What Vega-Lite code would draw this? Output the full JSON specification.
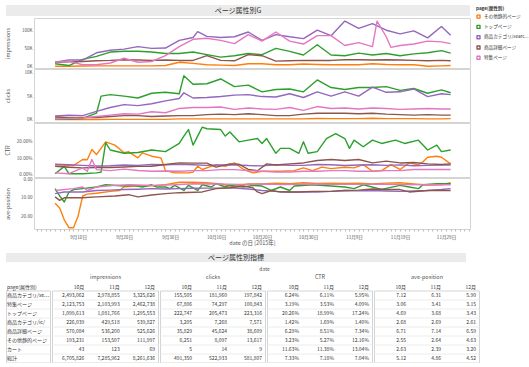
{
  "$schema": "https://vega.github.io/schema/vega-lite/v6.json",
  "padding": {"left": 5, "top": 5, "right": 0, "bottom": 0},
  "background": "white",
  "config": {
    "font": "Noto Sans CJK JP",
    "view": {"stroke": "#d4d4d4"},
    "axis": {"labelFontSize": 4.6, "titleFontSize": 5.5, "labelColor": "#555", "titleColor": "#555", "titleFontWeight": "normal", "ticks": false, "domain": false, "grid": false},
    "legend": {"orient": "none", "legendX": 470, "legendY": 1, "padding": 0, "titleFontSize": 4.6, "labelFontSize": 4.6, "titleFontWeight": "bold", "titleColor": "#333", "labelColor": "#333", "symbolType": "square", "symbolSize": 9, "symbolStrokeWidth": 2.6, "rowPadding": 4.3, "titlePadding": 3.5, "labelOffset": 3, "labelLimit": 48},
    "line": {"strokeWidth": 1.4, "strokeJoin": "round"}
  },
  "datasets": {
    "imp": [
      {"d":"2015/09/05","o":1,"t":8,"s":12,"b":12,"f":12},
      {"d":"2015/09/08","o":1,"t":3,"s":18,"b":13,"f":15},
      {"d":"2015/09/11","o":1.5,"t":20,"s":18,"b":14,"f":5},
      {"d":"2015/09/14","o":2,"t":28,"s":38,"b":16,"f":5},
      {"d":"2015/09/17","o":2,"t":40,"s":45,"b":17,"f":10},
      {"d":"2015/09/20","o":2,"t":42,"s":48,"b":19,"f":23},
      {"d":"2015/09/23","o":2,"t":42,"s":55,"b":18,"f":12},
      {"d":"2015/09/26","o":2,"t":40,"s":50,"b":17,"f":14},
      {"d":"2015/09/29","o":3,"t":36,"s":51,"b":18,"f":30},
      {"d":"2015/10/02","o":12,"t":36,"s":72,"b":17,"f":55},
      {"d":"2015/10/05","o":9,"t":40,"s":80,"b":17,"f":75},
      {"d":"2015/10/06","s":96},
      {"d":"2015/10/08","o":5,"t":33,"s":83,"b":30,"f":78},
      {"d":"2015/10/11","o":4,"t":26,"s":80,"b":17,"f":72},
      {"d":"2015/10/14","o":3,"t":30,"s":82,"b":16,"f":63},
      {"d":"2015/10/17","o":8,"t":36,"s":95,"b":33,"f":88},
      {"d":"2015/10/20","o":8,"t":33,"s":72,"b":30,"f":70},
      {"d":"2015/10/23","o":5,"t":50,"s":88,"b":15,"f":95},
      {"d":"2015/10/26","o":5,"t":42,"s":82,"b":16,"f":70},
      {"d":"2015/10/29","o":7,"t":32,"s":77,"b":17,"f":62},
      {"d":"2015/11/01","o":6,"t":60,"s":100,"b":17,"f":85},
      {"d":"2015/11/04","o":5,"t":32,"s":85,"b":17,"f":85},
      {"d":"2015/11/07","o":5,"t":30,"s":125,"b":19,"f":58},
      {"d":"2015/11/10","o":5,"t":37,"s":105,"b":19,"f":66},
      {"d":"2015/11/13","o":8,"t":32,"s":118,"b":18,"f":55},
      {"d":"2015/11/14","f":125},
      {"d":"2015/11/16","o":6,"t":36,"s":100,"b":19,"f":82},
      {"d":"2015/11/17","f":53},
      {"d":"2015/11/19","o":5,"t":30,"s":90,"b":18,"f":58},
      {"d":"2015/11/22","o":5,"t":35,"s":98,"b":17,"f":62},
      {"d":"2015/11/25","o":1,"t":38,"s":79,"b":16,"f":70},
      {"d":"2015/11/28","o":2,"t":44,"s":110,"b":17,"f":68},
      {"d":"2015/11/30","o":3,"t":37,"s":86,"b":16,"f":63}
    ],
    "clk": [
      {"d":"2015/09/05","o":0.05,"t":0.2,"s":0.8,"b":0.6,"f":0.2},
      {"d":"2015/09/08","o":0.05,"t":0.1,"s":1.0,"b":0.5,"f":0.3},
      {"d":"2015/09/11","o":0.05,"t":0.3,"s":0.9,"b":0.5,"f":0.4},
      {"d":"2015/09/14","o":0.08,"t":1.4,"s":1.8,"b":0.5,"f":0.7},
      {"d":"2015/09/15","t":5.0},
      {"d":"2015/09/17","o":0.1,"t":5.3,"s":2.6,"b":0.7,"f":1.0},
      {"d":"2015/09/20","o":0.1,"t":5.0,"s":3.2,"b":0.9,"f":1.3},
      {"d":"2015/09/23","o":0.1,"t":4.6,"s":3.0,"b":0.9,"f":1.2},
      {"d":"2015/09/26","o":0.1,"t":5.6,"s":3.4,"b":0.7,"f":1.7},
      {"d":"2015/09/29","o":0.1,"t":5.8,"s":4.0,"b":0.8,"f":1.5},
      {"d":"2015/10/02","o":0.2,"t":5.5,"s":4.5,"b":0.9,"f":2.4},
      {"d":"2015/10/03","t":9.3,"s":5.7},
      {"d":"2015/10/05","o":0.2,"t":7.5,"s":4.6,"b":0.9,"f":2.6},
      {"d":"2015/10/08","o":0.2,"t":7.6,"s":4.7,"b":1.1,"f":2.6},
      {"d":"2015/10/11","o":0.2,"t":8.6,"s":4.9,"b":1.2,"f":2.7},
      {"d":"2015/10/14","o":0.2,"t":7.0,"s":5.2,"b":1.1,"f":2.2},
      {"d":"2015/10/17","o":0.2,"t":7.3,"s":5.3,"b":1.3,"f":2.5},
      {"d":"2015/10/20","o":0.2,"t":5.9,"s":4.9,"b":1.1,"f":2.3},
      {"d":"2015/10/23","o":0.2,"t":6.4,"s":4.8,"b":0.9,"f":2.2},
      {"d":"2015/10/26","o":0.2,"t":6.5,"s":5.5,"b":0.9,"f":2.6},
      {"d":"2015/10/29","o":0.2,"t":5.9,"s":4.7,"b":1.2,"f":2.0},
      {"d":"2015/11/01","o":0.3,"t":8.4,"s":5.9,"b":1.4,"f":2.8},
      {"d":"2015/11/04","o":0.25,"t":6.8,"s":5.0,"b":1.4,"f":2.4},
      {"d":"2015/11/07","o":0.25,"t":6.4,"s":5.9,"b":1.4,"f":2.5},
      {"d":"2015/11/10","o":0.25,"t":6.8,"s":5.0,"b":1.3,"f":2.3},
      {"d":"2015/11/13","o":0.35,"t":6.8,"s":6.9,"b":1.4,"f":2.5},
      {"d":"2015/11/16","o":0.25,"t":7.0,"s":5.8,"b":1.2,"f":2.4},
      {"d":"2015/11/19","o":0.25,"t":6.2,"s":5.9,"b":1.1,"f":2.2},
      {"d":"2015/11/22","o":0.25,"t":6.6,"s":6.5,"b":1.0,"f":2.3},
      {"d":"2015/11/25","o":0.2,"t":5.6,"s":4.9,"b":1.1,"f":2.4},
      {"d":"2015/11/28","o":0.2,"t":6.3,"s":5.5,"b":1.0,"f":2.3},
      {"d":"2015/11/30","o":0.25,"t":5.7,"s":5.3,"b":1.0,"f":2.3}
    ],
    "ctr": [
      {"d":"2015/09/05","s":6.3,"b":5.1,"f":1.0,"t":0.5,"o":5.1},
      {"d":"2015/09/07","t":5},
      {"d":"2015/09/08","s":6.0,"b":4.5,"f":0.5,"t":0.5},
      {"d":"2015/09/09","o":5.5},
      {"d":"2015/09/11","s":5.6,"b":4.1,"f":4.1,"t":0.5,"o":9.2},
      {"d":"2015/09/12","f":2.0,"o":9.0},
      {"d":"2015/09/13","f":9.2,"o":15.3},
      {"d":"2015/09/14","s":5.2,"b":4.3,"f":3.0,"t":1,"o":12.2},
      {"d":"2015/09/15","t":1.5},
      {"d":"2015/09/16","t":19.5,"o":20},
      {"d":"2015/09/17","s":5.4,"b":4.3,"f":2.4,"t":15},
      {"d":"2015/09/18","o":18},
      {"d":"2015/09/20","s":5.8,"b":4.6,"f":3.3,"t":13,"o":13.3},
      {"d":"2015/09/21","o":13.9},
      {"d":"2015/09/23","s":5.6,"b":5.0,"f":2.5,"t":13.5,"o":10.2},
      {"d":"2015/09/24","o":13.3},
      {"d":"2015/09/26","s":6.1,"b":5.1,"f":2.0,"t":15,"o":11.2},
      {"d":"2015/09/28","o":10.2},
      {"d":"2015/09/29","s":6.0,"b":6.1,"f":2.2,"t":14,"o":2.4},
      {"d":"2015/10/01","o":1},
      {"d":"2015/10/02","s":6.2,"b":7.1,"f":2.0,"t":19},
      {"d":"2015/10/03","t":23.5},
      {"d":"2015/10/04","t":27.5,"o":1},
      {"d":"2015/10/05","s":6.0,"b":7.0,"f":2.4,"t":18,"o":1.5},
      {"d":"2015/10/06","o":5.1},
      {"d":"2015/10/07","t":29,"o":3.1},
      {"d":"2015/10/08","s":5.6,"b":7.0,"f":2.4,"t":28},
      {"d":"2015/10/10","b":4.5,"o":6.1},
      {"d":"2015/10/11","s":5.8,"f":3.0,"t":27.5},
      {"d":"2015/10/12","t":23.5,"o":5},
      {"d":"2015/10/13","b":6.5,"t":26},
      {"d":"2015/10/14","s":5.9,"f":3.0,"o":7.1},
      {"d":"2015/10/15","b":6.3,"t":20},
      {"d":"2015/10/16","o":3.1},
      {"d":"2015/10/17","s":5.5,"b":3.1,"f":2.4,"t":21},
      {"d":"2015/10/18","o":1},
      {"d":"2015/10/19","b":2.3,"t":22},
      {"d":"2015/10/20","s":5.3,"f":2.0,"t":19,"o":2},
      {"d":"2015/10/21","b":6.5,"t":22},
      {"d":"2015/10/22","o":2},
      {"d":"2015/10/23","s":6.0,"b":5.8,"f":1.6,"t":13},
      {"d":"2015/10/24","t":16,"o":2},
      {"d":"2015/10/26","s":5.7,"b":6.5,"f":1.6,"t":16},
      {"d":"2015/10/27","o":2.4},
      {"d":"2015/10/28","t":13},
      {"d":"2015/10/29","s":5.6,"b":7.1,"f":2.0,"t":20,"o":4.1},
      {"d":"2015/10/30","t":13},
      {"d":"2015/10/31","o":2.4},
      {"d":"2015/11/01","s":6.1,"b":8.6,"f":2.0,"t":14},
      {"d":"2015/11/02","o":4.5},
      {"d":"2015/11/03","t":22},
      {"d":"2015/11/04","s":6.0,"b":9.2,"f":2.4,"o":3.6},
      {"d":"2015/11/05","t":25},
      {"d":"2015/11/07","s":5.5,"b":8.6,"f":2.4,"t":22,"o":4.5},
      {"d":"2015/11/08","t":16},
      {"d":"2015/11/09","t":21,"o":4.1},
      {"d":"2015/11/10","s":5.8,"b":9.2,"f":2.0},
      {"d":"2015/11/11","t":17,"o":6.1},
      {"d":"2015/11/13","s":6.0,"b":7.1,"f":2.0,"t":21,"o":2},
      {"d":"2015/11/15","t":19,"o":2.4},
      {"d":"2015/11/16","s":5.6,"b":8.2,"f":2.4},
      {"d":"2015/11/17","o":6.1},
      {"d":"2015/11/18","t":21},
      {"d":"2015/11/19","s":5.9,"b":7.1,"f":2.4,"o":3.1},
      {"d":"2015/11/20","t":19},
      {"d":"2015/11/21","o":7.1},
      {"d":"2015/11/22","s":5.4,"b":7.4,"f":3.1},
      {"d":"2015/11/23","t":21,"o":6},
      {"d":"2015/11/24","o":7.8},
      {"d":"2015/11/25","s":5.6,"b":6.5,"f":3.1,"t":15,"o":10.6},
      {"d":"2015/11/27","t":18,"o":11.2},
      {"d":"2015/11/28","s":5.8,"b":6.1,"f":3.1,"t":14,"o":10.6},
      {"d":"2015/11/30","s":5.8,"b":6.5,"f":3.1,"t":15,"o":6.5}
    ],
    "pos": [
      {"d":"2015/09/05","o":13,"t":5,"s":7.7,"b":9.5,"f":6},
      {"d":"2015/09/06","o":15.5,"t":9,"b":11.4},
      {"d":"2015/09/07","o":22,"t":12.3,"s":6.8,"b":10},
      {"d":"2015/09/08","o":26.3,"t":7},
      {"d":"2015/09/09","o":26.3,"t":5.5,"f":5},
      {"d":"2015/09/10","o":20},
      {"d":"2015/09/11","o":9,"t":5,"s":6.8,"b":10,"f":4.1},
      {"d":"2015/09/12","o":8,"f":6},
      {"d":"2015/09/14","o":7.5,"t":4.1,"s":6,"b":9.5,"f":4.1},
      {"d":"2015/09/16","t":2.9},
      {"d":"2015/09/17","o":6.5,"s":5.8},
      {"d":"2015/09/18","b":9,"f":3.2},
      {"d":"2015/09/19","o":6},
      {"d":"2015/09/20","o":4,"t":3.6,"s":5.5},
      {"d":"2015/09/21","b":8.3,"f":2.9},
      {"d":"2015/09/22","t":3.2},
      {"d":"2015/09/23","o":3.6,"s":5.3,"b":9.5},
      {"d":"2015/09/24","t":4.1},
      {"d":"2015/09/26","o":3.5,"t":2.9,"s":5,"b":8.5,"f":3.2},
      {"d":"2015/09/27","t":4.1},
      {"d":"2015/09/29","o":2.8,"t":4.1,"s":5.2,"b":7.7},
      {"d":"2015/09/30","t":5},
      {"d":"2015/10/01","t":3.2,"f":2.9},
      {"d":"2015/10/02","o":1.5,"s":5,"b":7.2},
      {"d":"2015/10/03","t":6},
      {"d":"2015/10/04","t":3.2},
      {"d":"2015/10/05","o":1.5,"s":4.8,"f":2.3},
      {"d":"2015/10/06","t":6},
      {"d":"2015/10/07","t":2.9,"b":6.8},
      {"d":"2015/10/08","o":1.8,"s":4.7},
      {"d":"2015/10/09","t":4.1},
      {"d":"2015/10/10","t":2.3,"b":5,"f":2.5},
      {"d":"2015/10/11","o":2.5,"s":4.7},
      {"d":"2015/10/12","t":4.1},
      {"d":"2015/10/13","t":3.2,"b":4.5},
      {"d":"2015/10/14","o":4,"s":4.7},
      {"d":"2015/10/15","f":2.7},
      {"d":"2015/10/16","t":4.1,"b":3.6},
      {"d":"2015/10/17","o":2.5,"s":5.2},
      {"d":"2015/10/18","t":3.2,"b":4.5},
      {"d":"2015/10/19","b":6.8},
      {"d":"2015/10/20","o":2.5,"t":3.6,"s":6,"b":7.7,"f":2.5},
      {"d":"2015/10/22","t":6,"b":6},
      {"d":"2015/10/23","o":2,"s":6.5},
      {"d":"2015/10/24","t":4.1,"b":6.8},
      {"d":"2015/10/25","f":2.8},
      {"d":"2015/10/26","o":2.3,"t":6,"s":6.8},
      {"d":"2015/10/27","t":3.6},
      {"d":"2015/10/28","b":6.8},
      {"d":"2015/10/29","o":1.8,"s":6.8},
      {"d":"2015/10/30","f":2.5},
      {"d":"2015/10/31","t":2.9,"b":6.5},
      {"d":"2015/11/01","o":2.2,"s":6.8},
      {"d":"2015/11/04","o":2,"t":3.6,"s":6.5,"b":6.5},
      {"d":"2015/11/05","f":2.7},
      {"d":"2015/11/07","o":2.2,"t":4.1,"s":6,"b":6},
      {"d":"2015/11/09","t":5},
      {"d":"2015/11/10","o":2,"s":6.2,"b":5.8,"f":2.7},
      {"d":"2015/11/11","t":2.9},
      {"d":"2015/11/13","o":2.4,"s":6,"b":5.2},
      {"d":"2015/11/15","t":5.4,"f":2.6},
      {"d":"2015/11/16","o":2,"s":6.3,"b":5.5},
      {"d":"2015/11/19","o":1.8,"t":3.2,"s":6.5,"b":5.5},
      {"d":"2015/11/20","f":2.8},
      {"d":"2015/11/21","t":4.1,"b":6.8},
      {"d":"2015/11/22","o":2.4,"s":6.3},
      {"d":"2015/11/23","t":5},
      {"d":"2015/11/24","t":2.9},
      {"d":"2015/11/25","o":3,"s":6,"b":6,"f":2.9},
      {"d":"2015/11/27","t":2.3},
      {"d":"2015/11/28","o":2.9,"s":5.5},
      {"d":"2015/11/30","o":1.8,"t":2.3,"s":5,"b":6,"f":2.9}
    ],
    "tbl": [
      {"p":"商品カテゴリ/search/","i10":2493062,"i11":2978855,"i12":3325626,"c10":155505,"c11":181960,"c12":197842,"r10":0.0624,"r11":0.0611,"r12":0.0595,"a10":7.12,"a11":6.31,"a12":5.90},
      {"p":"特集ページ","i10":2123753,"i11":2103993,"i12":2462738,"c10":67806,"c11":74297,"c12":100843,"r10":0.0319,"r11":0.0353,"r12":0.0409,"a10":3.06,"a11":3.41,"a12":3.15},
      {"p":"トップページ","i10":1099613,"i11":1081766,"i12":1295553,"c10":222747,"c11":205473,"c12":223316,"r10":0.2026,"r11":0.1899,"r12":0.1724,"a10":4.69,"a11":3.68,"a12":3.43},
      {"p":"商品カテゴリ/ic/","i10":226039,"i11":429518,"i12":539827,"c10":3205,"c11":7268,"c12":7571,"r10":0.0142,"r11":0.0169,"r12":0.0140,"a10":2.68,"a11":2.69,"a12":2.61},
      {"p":"商品詳細ページ","i10":570084,"i11":536200,"i12":525626,"c10":35829,"c11":45624,"c12":38609,"r10":0.0629,"r11":0.0851,"r12":0.0734,"a10":6.71,"a11":7.14,"a12":6.59},
      {"p":"その他静的ページ","i10":193231,"i11":153507,"i12":111997,"c10":6251,"c11":8097,"c12":13617,"r10":0.0323,"r11":0.0527,"r12":0.1216,"a10":2.55,"a11":2.64,"a12":4.63},
      {"p":"カート","i10":43,"i11":123,"i12":69,"c10":5,"c11":14,"c12":9,"r10":0.1163,"r11":0.1138,"r12":0.1304,"a10":2.63,"a11":2.39,"a12":3.20},
      {"p":"総計","i10":6705826,"i11":7285962,"i12":8261636,"c10":491350,"c11":522933,"c12":581807,"r10":0.0733,"r11":0.0718,"r12":0.0704,"a10":5.12,"a11":4.86,"a12":4.52}
    ]
  },
  "concat": [
    {
      "concat": [
        {
          "width": 464, "height": 11,
          "view": {"fill": "#ebebeb", "stroke": null},
          "data": {"values": [{"t": "ページ属性別G"}]},
          "mark": {"type": "text", "fontSize": 7, "color": "#333", "baseline": "middle"},
          "encoding": {"text": {"field": "t"}}
        },
        {
          "bounds": "flush",
          "spacing": 0,
          "hconcat": [
            {
              "width": 28, "height": 211,
              "view": {"stroke": null},
              "data": {"values": [{"t": ""}]},
              "mark": {"type": "text"},
              "encoding": {"text": {"field": "t"}}
            },
            {
              "bounds": "flush",
              "spacing": 1,
              "vconcat": [
                {
                  "width": 436, "height": 50,
                  "data": {"name": "imp"},
                  "transform": [{"fold": ["o","t","s","b","f"], "as": ["p","v"]}, {"filter": "isValid(datum.v)"}],
                  "mark": {"type": "line"},
                  "encoding": {
                    "x": {"field": "d", "type": "temporal", "axis": null, "scale": {"domain": [{"year":2015,"month":8,"date":31,"hours":10},{"year":2015,"month":12,"date":4,"hours":5}]}},
                    "y": {"field": "v", "type": "quantitative", "scale": {"domain": [-3.8, 133.5], "nice": false, "zero": false}, "axis": {"title": "impressions", "values": [0,50,100], "labelExpr": "datum.value + 'K'", "minExtent": 22, "maxExtent": 22, "labelPadding": 2, "titlePadding": 1.5}},
                    "color": {"field": "p", "type": "nominal", "scale": {"domain": ["o","t","s","b","f"], "range": ["#ff7f0e","#2ca02c","#9467bd","#8c564b","#e377c2"]}, "legend": {"title": "page(属性別)", "labelExpr": "{o:'その他静的ページ',t:'トップページ',s:'商品カテゴリ/searc...',b:'商品詳細ページ',f:'特集ページ'}[datum.label]", "encode": {"symbols": {"update": {"fill": {"scale": "color", "field": "value"}}}}}}
                  }
                },
                {
                  "width": 436, "height": 53,
                  "data": {"name": "clk"},
                  "transform": [{"fold": ["o","t","s","b","f"], "as": ["p","v"]}, {"filter": "isValid(datum.v)"}],
                  "mark": {"type": "line"},
                  "encoding": {
                    "x": {"field": "d", "type": "temporal", "axis": null, "scale": {"domain": [{"year":2015,"month":8,"date":31,"hours":10},{"year":2015,"month":12,"date":4,"hours":5}]}},
                    "y": {"field": "v", "type": "quantitative", "scale": {"domain": [-0.45, 10.7], "nice": false, "zero": false}, "axis": {"title": "clicks", "values": [0,5,10], "labelExpr": "datum.value + 'K'", "minExtent": 22, "maxExtent": 22, "labelPadding": 2, "titlePadding": 1.5}},
                    "color": {"field": "p", "type": "nominal", "scale": {"domain": ["o","t","s","b","f"], "range": ["#ff7f0e","#2ca02c","#9467bd","#8c564b","#e377c2"]}, "legend": {"title": "page(属性別)", "labelExpr": "{o:'その他静的ページ',t:'トップページ',s:'商品カテゴリ/searc...',b:'商品詳細ページ',f:'特集ページ'}[datum.label]", "encode": {"symbols": {"update": {"fill": {"scale": "color", "field": "value"}}}}}}
                  }
                },
                {
                  "width": 436, "height": 54,
                  "data": {"name": "ctr"},
                  "transform": [{"fold": ["o","t","s","b","f"], "as": ["p","v"]}, {"filter": "isValid(datum.v)"}],
                  "mark": {"type": "line"},
                  "encoding": {
                    "x": {"field": "d", "type": "temporal", "axis": null, "scale": {"domain": [{"year":2015,"month":8,"date":31,"hours":10},{"year":2015,"month":12,"date":4,"hours":5}]}},
                    "y": {"field": "v", "type": "quantitative", "scale": {"domain": [-1.5, 31.5], "nice": false, "zero": false}, "axis": {"title": "CTR", "values": [0,10,20], "labelExpr": "format(datum.value, '.2f') + '%'", "minExtent": 22, "maxExtent": 22, "labelPadding": 2, "titlePadding": 1.5}},
                    "color": {"field": "p", "type": "nominal", "scale": {"domain": ["o","t","s","b","f"], "range": ["#ff7f0e","#2ca02c","#9467bd","#8c564b","#e377c2"]}, "legend": {"title": "page(属性別)", "labelExpr": "{o:'その他静的ページ',t:'トップページ',s:'商品カテゴリ/searc...',b:'商品詳細ページ',f:'特集ページ'}[datum.label]", "encode": {"symbols": {"update": {"fill": {"scale": "color", "field": "value"}}}}}}
                  }
                },
                {
                  "width": 436, "height": 51,
                  "data": {"name": "pos"},
                  "transform": [{"fold": ["o","t","s","b","f"], "as": ["p","v"]}, {"filter": "isValid(datum.v)"}],
                  "mark": {"type": "line"},
                  "encoding": {
                    "x": {"field": "d", "type": "temporal", "scale": {"domain": [{"year":2015,"month":8,"date":31,"hours":10},{"year":2015,"month":12,"date":4,"hours":5}]}, "axis": {"title": "date の日 [2015年]", "tickCount": {"interval": "day", "step": 1}, "ticks": true, "tickSize": 2, "tickColor": "#bbb", "labelOverlap": false, "labelPadding": 3, "titlePadding": 2, "labelExpr": "round((datum.value - datetime(2015,8,10)) / 864e5) % 10 == 0 ? (month(datum.value) + 1) + '月' + date(datum.value) + '日' : ''"}},
                    "y": {"field": "v", "type": "quantitative", "scale": {"domain": [-0.8, 27], "nice": false, "zero": false, "reverse": true}, "axis": {"title": "ave-position", "values": [0,10,20], "format": ".2f", "minExtent": 22, "maxExtent": 22, "labelPadding": 2, "titlePadding": 1.5}},
                    "color": {"field": "p", "type": "nominal", "scale": {"domain": ["o","t","s","b","f"], "range": ["#ff7f0e","#2ca02c","#9467bd","#8c564b","#e377c2"]}, "legend": {"title": "page(属性別)", "labelExpr": "{o:'その他静的ページ',t:'トップページ',s:'商品カテゴリ/searc...',b:'商品詳細ページ',f:'特集ページ'}[datum.label]", "encode": {"symbols": {"update": {"fill": {"scale": "color", "field": "value"}}}}}}
                  }
                }
              ]
            }
          ]
        }
      ],
      "columns": 1,
      "align": "none",
      "spacing": 1
    },
    {
      "concat": [
        {
          "width": 460, "height": 9,
          "view": {"fill": "#ebebeb", "stroke": null},
          "data": {"values": [{"t": "ページ属性別指標"}]},
          "mark": {"type": "text", "fontSize": 7, "color": "#333", "baseline": "middle"},
          "encoding": {"text": {"field": "t"}}
        },
        {
          "title": {"text": "date", "fontSize": 5, "fontWeight": "normal", "color": "#555", "anchor": "middle", "dx": 22, "offset": 2},
          "hconcat": [
            {
              "width": 44, "height": 72,
              "data": {"name": "tbl"},
              "mark": {"type": "text", "align": "left", "baseline": "middle", "fontSize": 5, "color": "#333", "dx": 1, "limit": 43, "ellipsis": ""},
              "encoding": {
                "x": {"datum": "page(属性別)", "type": "nominal", "bandPosition": 0, "scale": {"type": "band", "paddingInner": 0, "paddingOuter": 0}, "axis": {"orient": "top", "title": null, "labelAlign": "left", "labelAngle": 0, "labelOffset": -21, "labelPadding": 1.5, "labelFontSize": 5, "labelColor": "#333"}},
                "y": {"field": "p", "type": "nominal", "sort": ["商品カテゴリ/search/","特集ページ","トップページ","商品カテゴリ/ic/","商品詳細ページ","その他静的ページ","カート","総計"], "scale": {"type": "band", "paddingInner": 0, "paddingOuter": 0}, "axis": {"title": null, "labels": false, "grid": true, "gridColor": "#ececec", "bandPosition": 1}},
                "text": {"field": "p"}
              }
            },
            {
              "width": 106, "height": 72,
              "data": {"name": "tbl"},
              "transform": [{"fold": ["i10","i11","i12"], "as": ["mo","v"]}],
              "mark": {"type": "text", "align": "right", "baseline": "middle", "fontSize": 5, "color": "#333", "dx": -3},
              "encoding": {
                "x": {"field": "mo", "type": "nominal", "bandPosition": 1, "scale": {"type": "band", "paddingInner": 0, "paddingOuter": 0}, "axis": {"orient": "top", "title": "impressions", "labelAlign": "right", "labelOffset": 14.7, "labelAngle": 0, "labelExpr": "slice(datum.label, 1) + '月'", "labelPadding": 1.5, "labelFontSize": 5, "titlePadding": 5, "labelColor": "#333"}},
                "y": {"field": "p", "type": "nominal", "sort": ["商品カテゴリ/search/","特集ページ","トップページ","商品カテゴリ/ic/","商品詳細ページ","その他静的ページ","カート","総計"], "scale": {"type": "band", "paddingInner": 0, "paddingOuter": 0}, "axis": {"title": null, "labels": false, "grid": true, "gridColor": "#ececec", "bandPosition": 1}},
                "text": {"field": "v", "type": "quantitative", "format": ",d"}
              }
            },
            {
              "width": 105, "height": 72,
              "data": {"name": "tbl"},
              "transform": [{"fold": ["c10","c11","c12"], "as": ["mo","v"]}],
              "mark": {"type": "text", "align": "right", "baseline": "middle", "fontSize": 5, "color": "#333", "dx": -3},
              "encoding": {
                "x": {"field": "mo", "type": "nominal", "bandPosition": 1, "scale": {"type": "band", "paddingInner": 0, "paddingOuter": 0}, "axis": {"orient": "top", "title": "clicks", "labelAlign": "right", "labelOffset": 14.5, "labelAngle": 0, "labelExpr": "slice(datum.label, 1) + '月'", "labelPadding": 1.5, "labelFontSize": 5, "titlePadding": 5, "labelColor": "#333"}},
                "y": {"field": "p", "type": "nominal", "sort": ["商品カテゴリ/search/","特集ページ","トップページ","商品カテゴリ/ic/","商品詳細ページ","その他静的ページ","カート","総計"], "scale": {"type": "band", "paddingInner": 0, "paddingOuter": 0}, "axis": {"title": null, "labels": false, "grid": true, "gridColor": "#ececec", "bandPosition": 1}},
                "text": {"field": "v", "type": "quantitative", "format": ",d"}
              }
            },
            {
              "width": 105, "height": 72,
              "data": {"name": "tbl"},
              "transform": [{"fold": ["r10","r11","r12"], "as": ["mo","v"]}],
              "mark": {"type": "text", "align": "right", "baseline": "middle", "fontSize": 5, "color": "#333", "dx": -3},
              "encoding": {
                "x": {"field": "mo", "type": "nominal", "bandPosition": 1, "scale": {"type": "band", "paddingInner": 0, "paddingOuter": 0}, "axis": {"orient": "top", "title": "CTR", "labelAlign": "right", "labelOffset": 14.5, "labelAngle": 0, "labelExpr": "slice(datum.label, 1) + '月'", "labelPadding": 1.5, "labelFontSize": 5, "titlePadding": 5, "labelColor": "#333"}},
                "y": {"field": "p", "type": "nominal", "sort": ["商品カテゴリ/search/","特集ページ","トップページ","商品カテゴリ/ic/","商品詳細ページ","その他静的ページ","カート","総計"], "scale": {"type": "band", "paddingInner": 0, "paddingOuter": 0}, "axis": {"title": null, "labels": false, "grid": true, "gridColor": "#ececec", "bandPosition": 1}},
                "text": {"field": "v", "type": "quantitative", "format": ".2%"}
              }
            },
            {
              "width": 105, "height": 72,
              "data": {"name": "tbl"},
              "transform": [{"fold": ["a10","a11","a12"], "as": ["mo","v"]}],
              "mark": {"type": "text", "align": "right", "baseline": "middle", "fontSize": 5, "color": "#333", "dx": -3},
              "encoding": {
                "x": {"field": "mo", "type": "nominal", "bandPosition": 1, "scale": {"type": "band", "paddingInner": 0, "paddingOuter": 0}, "axis": {"orient": "top", "title": "ave-position", "labelAlign": "right", "labelOffset": 14.5, "labelAngle": 0, "labelExpr": "slice(datum.label, 1) + '月'", "labelPadding": 1.5, "labelFontSize": 5, "titlePadding": 5, "labelColor": "#333"}},
                "y": {"field": "p", "type": "nominal", "sort": ["商品カテゴリ/search/","特集ページ","トップページ","商品カテゴリ/ic/","商品詳細ページ","その他静的ページ","カート","総計"], "scale": {"type": "band", "paddingInner": 0, "paddingOuter": 0}, "axis": {"title": null, "labels": false, "grid": true, "gridColor": "#ececec", "bandPosition": 1}},
                "text": {"field": "v", "type": "quantitative", "format": ".2f"}
              }
            }
          ],
          "spacing": 0
        }
      ],
      "columns": 1,
      "align": "none",
      "spacing": 4.5
    }
  ],
  "columns": 1,
  "align": "none",
  "spacing": 6
}
